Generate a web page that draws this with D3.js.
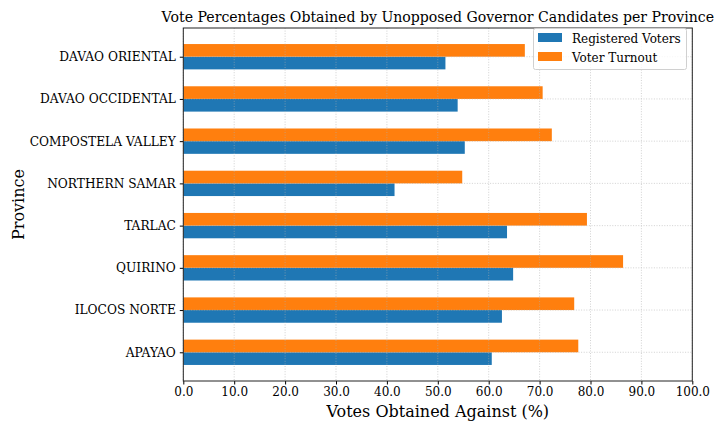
<!DOCTYPE html>
<html><head><meta charset="utf-8">
<script src="https://cdn.jsdelivr.net/npm/d3@7"></script>
<style>body{margin:0;background:#fff}svg{display:block}text{font-family:"DejaVu Serif",serif}</style>
</head><body><svg id="c" width="720" height="432"></svg>
<script>
const provinces = ["APAYAO","ILOCOS NORTE","QUIRINO","TARLAC","NORTHERN SAMAR","COMPOSTELA VALLEY","DAVAO OCCIDENTAL","DAVAO ORIENTAL"];
const registeredVoters = [60.6, 62.6, 64.8, 63.6, 41.5, 55.3, 53.9, 51.5];
const voterTurnout = [77.6, 76.8, 86.4, 79.3, 54.8, 72.4, 70.6, 67.1];
const xTicks = [0,10,20,30,40,50,60,70,80,90,100];
const seriesNames = ["Registered Voters","Voter Turnout"];
const colors = ["#1f77b4","#ff7f0e"];

const svg = d3.select("#c");
const L=183.3, R=692.3, T=28, B=381;
const x = d3.scaleLinear().domain([0,100]).range([L,R]);
const y = d3.scaleLinear().domain([-0.68, 7.68]).range([B,T]);
const bw = 0.3;

const g = svg.append("g");
provinces.forEach((p,i)=>{
  g.append("rect").attr("x",x(0)).attr("y",y(i)).attr("width",x(registeredVoters[i])-x(0))
   .attr("height",y(i-bw)-y(i)).attr("fill",colors[0]);
  g.append("rect").attr("x",x(0)).attr("y",y(i+bw)).attr("width",x(voterTurnout[i])-x(0))
   .attr("height",y(i)-y(i+bw)).attr("fill",colors[1]);
});
const grid = svg.append("g").attr("stroke","#b0b0b0").attr("stroke-dasharray","1,1.6").attr("stroke-width",0.8).attr("opacity",0.7);
xTicks.forEach(t=>grid.append("line").attr("x1",x(t)).attr("x2",x(t)).attr("y1",T).attr("y2",B));
provinces.forEach((p,i)=>grid.append("line").attr("x1",L).attr("x2",R).attr("y1",y(i)).attr("y2",y(i)));

const xAxis = d3.axisBottom(x).tickValues(xTicks).tickFormat(d3.format(".1f")).tickSize(3.5).tickPadding(3);
const xa = svg.append("g").attr("transform",`translate(0,${B})`).call(xAxis);
xa.select(".domain").remove();
xa.selectAll("text").attr("font-size",12).attr("fill","#000").attr("font-family","DejaVu Serif");
xa.selectAll("line").attr("stroke","#000");
const yAxis = d3.axisLeft(y).tickValues(provinces.map((p,i)=>i)).tickFormat(i=>provinces[i]).tickSize(3.5).tickPadding(4);
const ya = svg.append("g").attr("transform",`translate(${L},0)`).call(yAxis);
ya.select(".domain").remove();
ya.selectAll("text").attr("font-size",12.2).attr("fill","#000").attr("font-family","DejaVu Serif");
ya.selectAll("line").attr("stroke","#000");

svg.append("rect").attr("x",L).attr("y",T).attr("width",R-L).attr("height",B-T).attr("fill","none").attr("stroke","#222").attr("stroke-width",1);

svg.append("text").attr("x",(L+R)/2).attr("y",22).attr("text-anchor","middle").attr("font-size",14.1).text("Vote Percentages Obtained by Unopposed Governor Candidates per Province");
svg.append("text").attr("x",(L+R)/2).attr("y",417).attr("text-anchor","middle").attr("font-size",16).text("Votes Obtained Against (%)");
svg.append("text").attr("transform",`translate(24,${(T+B)/2}) rotate(-90)`).attr("text-anchor","middle").attr("font-size",16).text("Province");

const lg = svg.append("g");
lg.append("rect").attr("x",533.5).attr("y",28.5).attr("width",153).attr("height",41).attr("rx",2).attr("fill","#fff").attr("fill-opacity",0.8).attr("stroke","#d0d0d0");
seriesNames.forEach((s,i)=>{
  lg.append("rect").attr("x",538).attr("y",33+i*19).attr("width",24).attr("height",9).attr("fill",colors[i]);
  lg.append("text").attr("x",572).attr("y",42.5+i*19).attr("font-size",12).text(s);
});
</script></body></html>
